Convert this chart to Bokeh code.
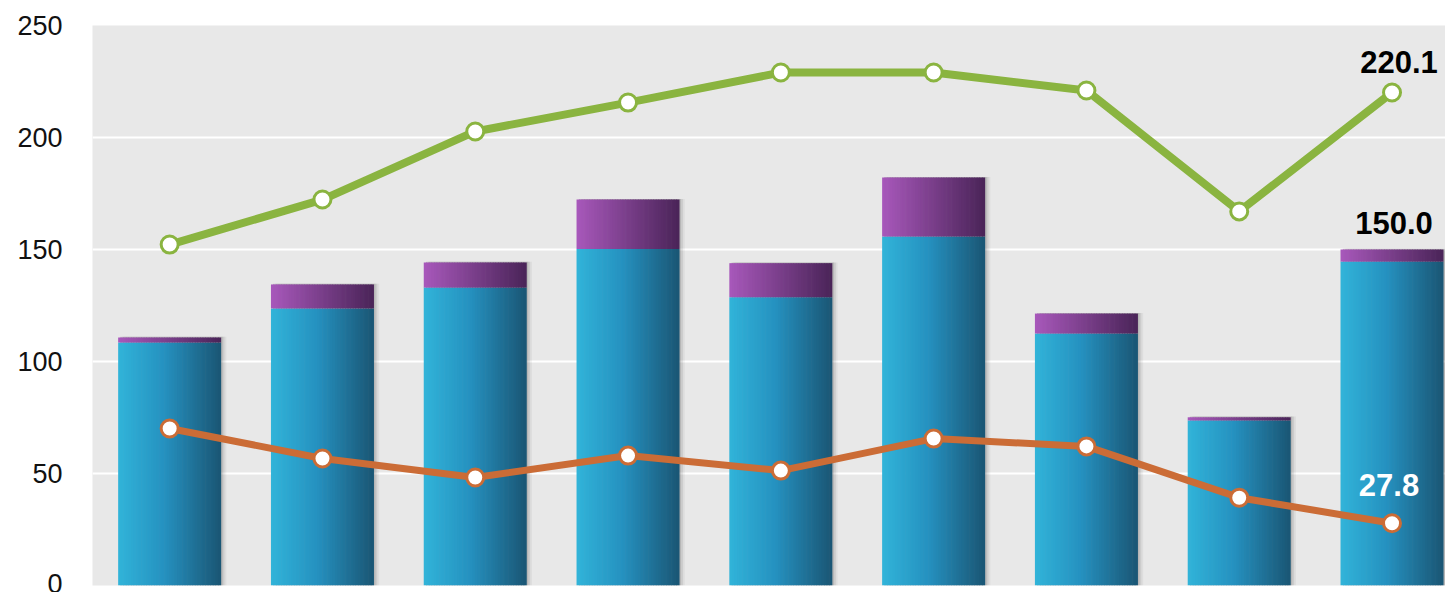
from bokeh.plotting import figure
from bokeh.models import Range1d, FixedTicker, ColumnDataSource
from bokeh.core.properties import value
from bokeh.embed import file_html
from bokeh.resources import INLINE

# ---- data ----
categories = list(range(9))
blue_values = [108.5, 123.7, 133.0, 150.2, 128.7, 155.8, 112.5, 73.7, 144.6]
purple_values = [2.2, 10.7, 11.2, 22.1, 15.2, 26.3, 8.9, 1.4, 5.4]
green_values = [152.2, 172.3, 202.7, 215.6, 229.0, 229.0, 221.0, 167.0, 220.1]
orange_values = [70.1, 56.7, 48.2, 58.0, 51.3, 65.6, 62.1, 39.2, 27.8]
y_ticks = [0, 50, 100, 150, 200, 250]

BAR_W = 0.67
N_STRIPS = 40
FONT = "Liberation Sans"


def hex_to_rgb(h):
    h = h.lstrip("#")
    return tuple(int(h[i:i + 2], 16) for i in (0, 2, 4))


def interp(stops, t):
    for (t0, c0), (t1, c1) in zip(stops, stops[1:]):
        if t <= t1:
            f = 0 if t1 == t0 else (t - t0) / (t1 - t0)
            a, b = hex_to_rgb(c0), hex_to_rgb(c1)
            return "#%02x%02x%02x" % tuple(round(a[i] + (b[i] - a[i]) * f) for i in range(3))
    return stops[-1][1]


blue_stops = [(0.0, "#31b4d9"), (0.45, "#2591c0"), (1.0, "#1a5674")]
purple_stops = [(0.0, "#a858bb"), (1.0, "#4a2458")]

p = figure(width=1445, height=592, output_backend="svg", toolbar_location=None,
           x_range=Range1d(-0.505, 8.35), y_range=Range1d(0, 250),
           min_border_left=92, min_border_right=0, min_border_top=25, min_border_bottom=7)
p.background_fill_color = "#e8e8e8"
p.border_fill_color = "white"
p.outline_line_color = None
p.xaxis.visible = False
p.xgrid.visible = False
p.ygrid.ticker = FixedTicker(ticks=y_ticks)
p.ygrid.grid_line_color = "white"
p.ygrid.grid_line_width = 2
p.yaxis.ticker = FixedTicker(ticks=y_ticks)
p.yaxis.axis_line_color = None
p.yaxis.major_tick_line_color = None
p.yaxis.minor_tick_line_color = None
p.yaxis.major_tick_out = 0
p.yaxis.major_label_standoff = 30
p.yaxis.major_label_text_font = FONT
p.yaxis.major_label_text_font_size = "27px"
p.yaxis.major_label_text_color = "#111111"

totals = [b + u for b, u in zip(blue_values, purple_values)]

# shadows
for dx, a in [(0.012, 0.18), (0.024, 0.12), (0.036, 0.07)]:
    p.vbar(x=[c + dx for c in categories], width=BAR_W, top=[t + 0.3 for t in totals], bottom=0,
           fill_color="#555555", fill_alpha=a, line_color=None)

# gradient bars made of thin strips
xs, b_tops, b_cols, p_bots, p_tops, p_cols = [], [], [], [], [], []
sw = BAR_W / N_STRIPS
for c, bv, pv in zip(categories, blue_values, purple_values):
    for k in range(N_STRIPS):
        t = (k + 0.5) / N_STRIPS
        xs.append(c - BAR_W / 2 + (k + 0.5) * sw)
        b_tops.append(bv)
        b_cols.append(interp(blue_stops, t))
        p_bots.append(bv)
        p_tops.append(bv + pv)
        p_cols.append(interp(purple_stops, t))
p.vbar(x=xs, width=sw * 1.25, top=b_tops, bottom=0, fill_color=b_cols, line_color=None)
p.vbar(x=xs, width=sw * 1.25, top=p_tops, bottom=p_bots, fill_color=p_cols, line_color=None)

# lines
green = "#8ab440"
orange = "#cb6c36"
p.line(categories, green_values, line_color=green, line_width=8)
p.scatter(categories, green_values, size=17, fill_color="white", line_color=green, line_width=3)
p.line(categories, orange_values, line_color=orange, line_width=7)
p.scatter(categories, orange_values, size=17, fill_color="white", line_color=orange, line_width=3)

# value labels for last category
last = categories[-1]
lab = ColumnDataSource(dict(
    x=[last, last, last],
    y=[green_values[-1], totals[-1], orange_values[-1]],
    text=["%.1f" % green_values[-1], "%.1f" % totals[-1], "%.1f" % orange_values[-1]],
    color=["#000000", "#000000", "#ffffff"],
    xo=[7, 2, -3],
    yo=[-30, -27, -38],
))
p.text(x="x", y="y", text="text", source=lab, text_color="color", x_offset="xo", y_offset="yo",
       text_font=value(FONT), text_font_style="bold", text_font_size="31px",
       text_align="center", text_baseline="middle")

open("out.html", "w").write(file_html(p, INLINE))
